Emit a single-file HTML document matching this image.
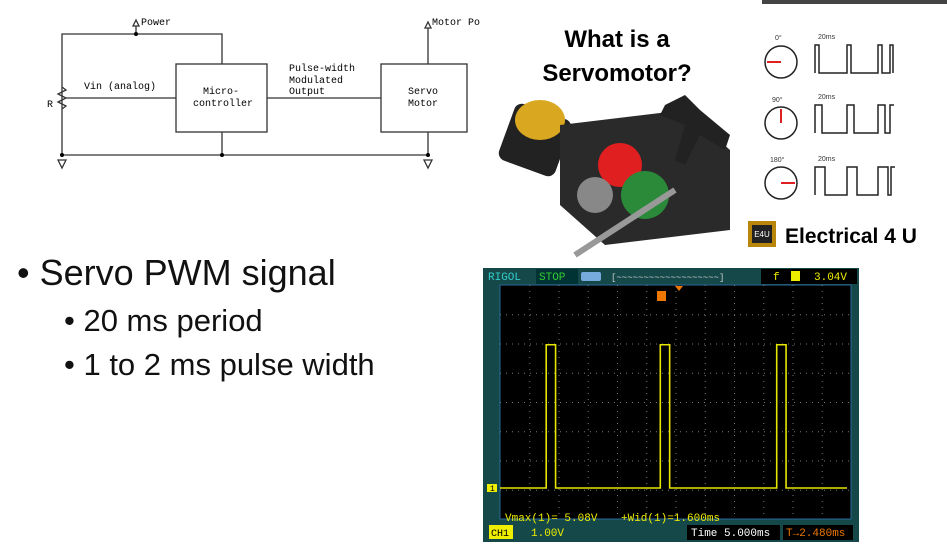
<!DOCTYPE html>
<html><head><meta charset="utf-8"><style>
html,body{margin:0;padding:0;background:#fff;width:947px;height:545px;overflow:hidden;position:relative;font-family:"Liberation Sans",sans-serif}
.abs{position:absolute}
</style></head><body>
<svg class="abs" style="left:0;top:0" width="490" height="190" font-family="Liberation Mono, monospace" font-size="10" fill="#000">
 <g stroke="#333" stroke-width="1.3" fill="none">
  <polyline points="62,155 62,34 222,34 222,64"/>
  <rect x="176" y="64" width="91" height="68"/>
  <rect x="381" y="64" width="86" height="68"/>
  <line x1="267" y1="98" x2="381" y2="98"/>
  <line x1="66" y1="98" x2="176" y2="98"/>
  <polyline points="62,87 66,90 58,94 66,98 58,102 66,106 62,109"/>
  <line x1="62" y1="155" x2="428" y2="155"/>
  <line x1="222" y1="132" x2="222" y2="155"/>
  <line x1="428" y1="132" x2="428" y2="155"/>
  <line x1="428" y1="64" x2="428" y2="28"/>
  <line x1="136" y1="34" x2="136" y2="26"/>
  <polygon points="136,20 133,26 139,26"/><polygon points="428,22 425,28 431,28"/>
  <polygon points="58,160 66,160 62,168"/><polygon points="424,160 432,160 428,168"/>
 </g>
 <g fill="#000"><circle cx="136" cy="34" r="2"/><circle cx="62" cy="155" r="2"/><circle cx="222" cy="155" r="2"/><circle cx="428" cy="155" r="2"/></g>
 <text x="141" y="25">Power</text><text x="432" y="25">Motor Po</text>
 <text x="84" y="89">Vin (analog)</text><text x="47" y="107">R</text>
 <text x="203" y="94">Micro-</text><text x="193" y="106">controller</text>
 <text x="289" y="71">Pulse-width</text><text x="289" y="83">Modulated</text><text x="289" y="94">Output</text>
 <text x="408" y="94">Servo</text><text x="408" y="106">Motor</text>
</svg>

<div class="abs" style="left:762px;top:0;width:185px;height:4px;background:#444"></div>

<svg class="abs" style="left:485px;top:15px" width="462" height="245">
 <text x="132" y="32" font-size="24" font-weight="bold" text-anchor="middle" font-family="Liberation Sans, sans-serif">What is a</text>
 <text x="132" y="66" font-size="24" font-weight="bold" text-anchor="middle" font-family="Liberation Sans, sans-serif">Servomotor?</text>
 <g>
  <rect x="20" y="95" width="60" height="60" rx="8" fill="#222" transform="rotate(20 50 125)"/>
  <ellipse cx="55" cy="105" rx="25" ry="20" fill="#d9a820"/>
  <polygon points="75,110 200,95 245,135 245,215 120,230 75,190" fill="#2a2a2a"/>
  <circle cx="135" cy="150" r="22" fill="#e02020"/>
  <circle cx="160" cy="180" r="24" fill="#2a8a3a"/>
  <circle cx="110" cy="180" r="18" fill="#888"/>
  <line x1="90" y1="240" x2="190" y2="175" stroke="#999" stroke-width="6"/>
  <polygon points="200,80 215,95 245,120 240,135 215,120 200,150 190,145 200,110 175,100 180,90" fill="#222"/>
 </g>
 <g stroke="#222" stroke-width="1.5" fill="none">
  <circle cx="296" cy="47" r="16"/><circle cx="296" cy="108" r="16"/><circle cx="296" cy="168" r="16"/>
  <polyline points="330,58 330,30 334,30 334,58 362,58 362,30 366,30 366,58 393,58 393,30 397,30 397,58 405,58 405,30 408,30 408,58"/>
  <polyline points="330,118 330,90 337,90 337,118 362,118 362,90 369,90 369,118 393,118 393,90 400,90 400,118 405,118 405,90 409,90"/>
  <polyline points="330,180 330,152 340,152 340,180 362,180 362,152 372,152 372,180 393,180 393,152 403,152 403,180 406,180 406,152 410,152"/>
 </g>
 <g stroke="#e02020" stroke-width="2"><line x1="296" y1="47" x2="282" y2="47"/><line x1="296" y1="108" x2="296" y2="94"/><line x1="296" y1="168" x2="310" y2="168"/></g>
 <g font-size="7" font-family="Liberation Sans, sans-serif" fill="#333"><text x="290" y="25">0°</text><text x="287" y="87">90°</text><text x="285" y="147">180°</text>
 <text x="333" y="24">20ms</text><text x="333" y="84">20ms</text><text x="333" y="146">20ms</text></g>
 <rect x="263" y="206" width="28" height="26" fill="#b8860b"/><rect x="267" y="210" width="20" height="18" fill="#222"/>
 <text x="277" y="222" font-size="8" fill="#fff" text-anchor="middle">E4U</text>
 <text x="300" y="228" font-size="21" font-weight="bold" font-family="Liberation Sans, sans-serif">Electrical 4 U</text>
</svg>

<div class="abs" style="left:17px;top:252px;font-size:36px;color:#111;line-height:42px">•&nbsp;Servo PWM signal</div>
<div class="abs" style="left:64px;top:303px;font-size:31px;color:#111;line-height:36px">•&nbsp;20 ms period</div>
<div class="abs" style="left:64px;top:347px;font-size:31px;color:#111;line-height:36px">•&nbsp;1 to 2 ms pulse width</div>

<svg class="abs" id="scope" style="left:483px;top:268px" width="376" height="274" font-family="Liberation Mono, monospace"></svg>
<script>
const pulseStarts=[7.9,27.4,47.3];
const pulseWidth=1.6;
const highLevel=5.08;
const lowLevel=0;
const timePerDiv=5;
const voltPerDiv=1;
const NS='http://www.w3.org/2000/svg';
const svg=document.getElementById('scope');
function mk(t,a,p){const e=document.createElementNS(NS,t);for(const k in a)e.setAttribute(k,a[k]);(p||svg).appendChild(e);return e;}
const gx0=17,gx1=368,gy0=17,gy1=251;
const xs=t=>gx0+t/timePerDiv*(gx1-gx0)/12;
const groundY=220;
const ys=v=>groundY-v/voltPerDiv*28.2;
mk('rect',{x:0,y:0,width:376,height:274,fill:'#154848'});
mk('rect',{x:gx0,y:gy0,width:gx1-gx0,height:gy1-gy0,fill:'#000',stroke:'#2a6a9a','stroke-width':1});
const g=mk('g',{fill:'#777'});
for(let i=1;i<12;i++)for(let y=gy0;y<gy1;y+=6)mk('rect',{x:gx0+i*(gx1-gx0)/12,y:y,width:1,height:1},g);
for(let j=1;j<8;j++)for(let x=gx0;x<gx1;x+=6)mk('rect',{x:x,y:gy0+j*(gy1-gy0)/8,width:1,height:1},g);
let pts=[[gx0,ys(lowLevel)]];
pulseStarts.forEach(s=>{pts.push([xs(s),ys(lowLevel)],[xs(s),ys(highLevel)],[xs(s+pulseWidth),ys(highLevel)],[xs(s+pulseWidth),ys(lowLevel)]);});
pts.push([gx1-4,ys(lowLevel)]);
const tr=mk('polyline',{points:pts.map(p=>p.join(',')).join(' '),fill:'none',stroke:'#e6e600','stroke-width':1.6});


function txt(x,y,s,c,sz,bg,w){if(bg)mk('rect',{x:x-3,y:y-11,width:w,height:15,fill:bg});const t=mk('text',{x:x,y:y,fill:c,'font-size':sz||11});t.textContent=s;return t;}
txt(5,12,'RIGOL','#3cc',11);
txt(56,12,'STOP','#3c3',11,'#033',42);
mk('rect',{x:98,y:4,width:20,height:9,fill:'#7ad',rx:2});
txt(128,12,'[~~~~~~~~~~~~~~~~~~~]','#ccc',9);
mk('rect',{x:278,y:1,width:96,height:15,fill:'#000'});
txt(290,12,'f','#ee0',11);mk('rect',{x:308,y:3,width:9,height:10,fill:'#ee0'});
txt(331,12,'3.04V','#ee0',11);
mk('polygon',{points:'192,18 200,18 196,23',fill:'#e70'});
mk('rect',{x:174,y:23,width:9,height:10,fill:'#e70'});
mk('rect',{x:4,y:ys(lowLevel)-4,width:10,height:8,fill:'#ee0'});
txt(7,ys(lowLevel)+3,'1','#000',8);
txt(22,253,'Vmax(1)= 5.08V','#ee0',11);txt(138,253,'+Wid(1)=1.600ms','#ee0',11);
mk('rect',{x:6,y:257,width:24,height:14,fill:'#ee0'});txt(8,268,'CH1','#000',10);
txt(48,268,'1.00V','#ee0',11);
mk('rect',{x:204,y:257,width:93,height:15,fill:'#000'});txt(208,268,'Time 5.000ms','#fff',11);
mk('rect',{x:300,y:257,width:70,height:15,fill:'#000'});txt(303,268,'T→2.480ms','#e70',11);
</script>
</body></html>
